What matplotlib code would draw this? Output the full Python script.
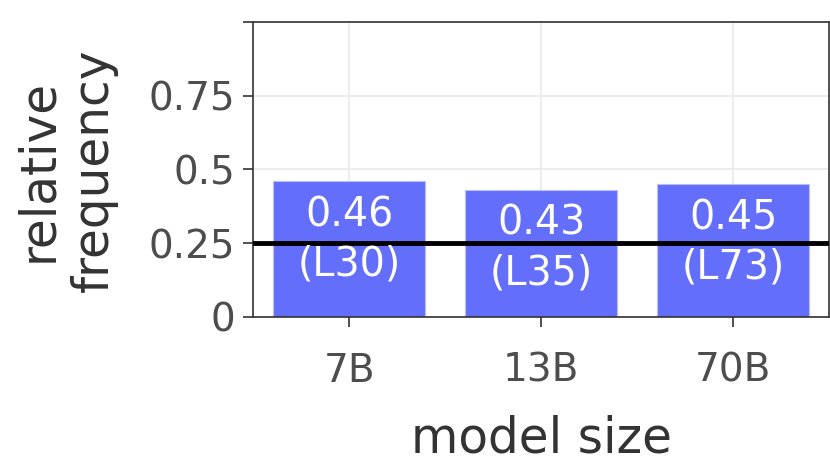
import matplotlib
matplotlib.use("Agg")
import matplotlib.pyplot as plt

# data
model_sizes = ["7B", "13B", "70B"]
rel_freq = [0.46, 0.43, 0.45]
layer_names = ["L30", "L35", "L73"]
chance_level = 0.25
y_ticks = [0, 0.25, 0.5, 0.75, 1.0]
y_tick_labels = ["0", "0.25", "0.5", "0.75", ""]

plt.rcParams["font.family"] = ["DejaVu Sans"]

fig = plt.figure(figsize=(8.3, 4.68), dpi=100)
ax = fig.add_axes([0.305, 0.323, 0.694, 0.630])

x = list(range(len(model_sizes)))
ax.bar(x, rel_freq, width=0.79, color="#636EFA", edgecolor="#B9BEFD",
       linewidth=0.8, zorder=2)
ax.axhline(chance_level, color="black", linewidth=3.5, zorder=3)

for xi, v, lab in zip(x, rel_freq, layer_names):
    ax.annotate(f"{v:.2f}\n({lab})", xy=(xi, v), xytext=(0, -10),
                textcoords="offset points", ha="center", va="top",
                color="white", fontsize=28.5, linespacing=1.3, zorder=4)

ax.set_xlim(-0.5, 2.5)
ax.set_ylim(0, 1.0)
ax.set_xticks(x)
ax.set_xticklabels(model_sizes)
ax.set_yticks(y_ticks)
ax.set_yticklabels(y_tick_labels)

ax.grid(True, color="#EBEBEB", linewidth=1.3, zorder=0)
ax.set_axisbelow(True)
for s in ax.spines.values():
    s.set_color("#333333")
    s.set_linewidth(1.2)

ax.tick_params(axis="both", colors="#333333", labelcolor="#4D4D4D",
               labelsize=28, length=7, width=1.2)
ax.tick_params(axis="x", pad=18)
ax.tick_params(axis="y", pad=6)

ax.set_xlabel("model size", fontsize=35, color="#333333", labelpad=18)
fig.text(66 / 830, 1 - 170 / 468, "relative\nfrequency", rotation=90,
         ha="center", va="center", multialignment="center",
         fontsize=35, color="#333333", linespacing=1.2)

fig.savefig("out.png", dpi=100)
